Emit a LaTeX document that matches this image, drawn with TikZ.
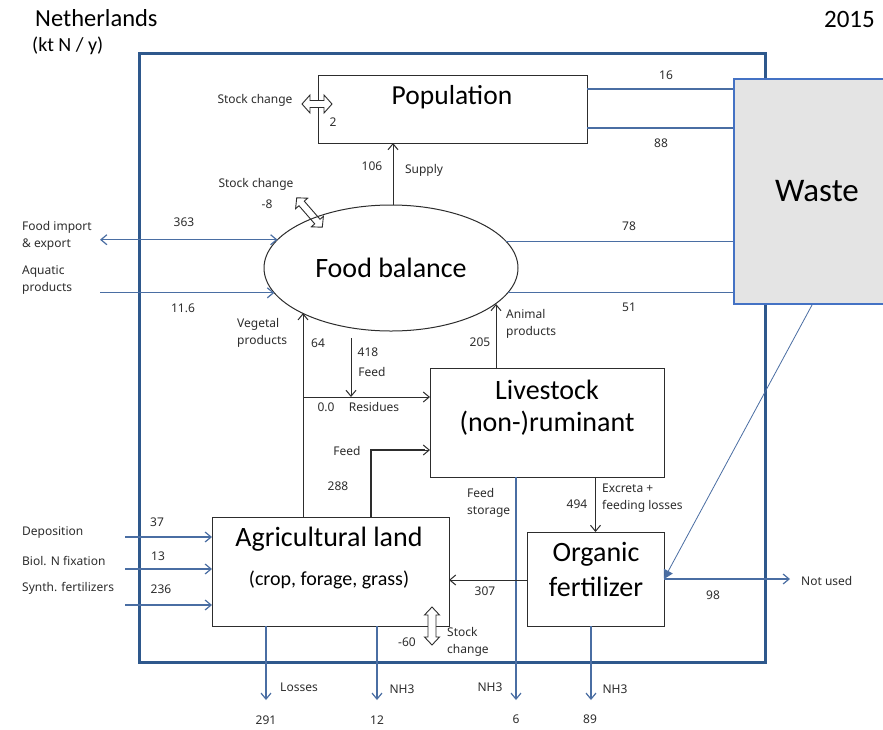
\documentclass[tikz,border=0pt]{standalone}
\usepackage{fontspec}
\setmainfont{Carlito}
\newfontfamily\lblfont{Noto Sans}
\usetikzlibrary{arrows.meta,shapes.geometric}
\definecolor{cblue}{RGB}{74,110,163}
\definecolor{fblue}{RGB}{46,88,140}
\definecolor{wblue}{RGB}{68,114,196}
\definecolor{wfill}{RGB}{228,228,228}
\definecolor{dk}{RGB}{45,45,45}
\newcommand{\hollowdbl}[7]{%
  \begin{scope}[shift={#1},rotate=#2]
    \draw[dk,line width=0.9pt,#7] (-#3,0) -- ({-#3+#4},#5) -- ({-#3+#4},#6) -- ({#3-#4},#6) -- ({#3-#4},#5) -- (#3,0)
      -- ({#3-#4},-#5) -- ({#3-#4},-#6) -- ({-#3+#4},-#6) -- ({-#3+#4},-#5) -- cycle;
  \end{scope}}
\begin{document}
\begin{tikzpicture}[x=1pt,y=-1pt,
  lab/.style={font=\lblfont\fontsize{12}{16.5}\selectfont, inner sep=0pt, align=left, text=dk},
  box/.style={draw=dk, line width=1pt, inner sep=0pt, outer sep=0pt, fill=white},
  ttl/.style={font=\fontsize{28}{30}\selectfont, inner sep=0pt, text=black},
  bl/.style={cblue, line width=1.2pt},
  bk/.style={dk, line width=1pt},
  tip/.style={-{Straight Barb[length=6pt,width=10pt]}},
  dtip/.style={{Straight Barb[length=6pt,width=10pt]}-{Straight Barb[length=6pt,width=10pt]}}]
\clip (0,0) rectangle (883,729);
\fill[white] (0,0) rectangle (883,729);

% titles
\node[anchor=west, inner sep=0pt, font=\fontsize{24.5}{26}\selectfont] (tnl) at (35,18) {Netherlands};
\node[anchor=west, inner sep=0pt, font=\fontsize{20}{22}\selectfont] (tunit) at (32,46) {(kt N / y)};
\node[anchor=east, inner sep=0pt, font=\fontsize{25}{26}\selectfont] (tyear) at (875,19) {2015};

% outer frame
\node[draw=fblue, line width=3pt, inner sep=0pt, minimum width=626pt, minimum height=609pt] (frame) at (452,357.5) {};

% boxes
\node[box, minimum width=269pt, minimum height=68pt] (pop) at (452.5,109) {};
\node[draw=wblue, fill=wfill, line width=2pt, inner sep=0pt, minimum width=161pt, minimum height=225pt] (waste) at (814.5,191.5) {};
\node[box, ellipse, minimum width=254pt, minimum height=126pt] (fb) at (391,268) {};
\node[box, minimum width=234pt, minimum height=109pt] (live) at (547,422.5) {};
\node[box, minimum width=237pt, minimum height=109pt] (agri) at (330.5,571.5) {};
\node[box, minimum width=137pt, minimum height=94pt] (org) at (595.5,579) {};

% box texts
\node[ttl, font=\fontsize{27.5}{30}\selectfont] (tpop) at (452,97) {Population};
\node[ttl, font=\fontsize{33}{36}\selectfont] (twaste) at (817,191) {Waste};
\node[ttl] (tfb) at (391,268) {Food balance};
\node[ttl] (tlive1) at (547,390) {Livestock};
\node[ttl] (tlive2) at (547,423) {(non-)ruminant};
\node[ttl] (tagri1) at (329,539) {Agricultural land};
\node[ttl, font=\fontsize{20}{22}\selectfont] (tagri2) at (329,580) {(crop, forage, grass)};
\node[ttl] (torg1) at (596,554) {Organic};
\node[ttl] (torg2) at (596,587) {fertilizer};

% coordinates
\coordinate (fiL) at (100,239);
\coordinate (aqL) at (100,293);
\coordinate (vg) at ([xshift=91pt]agri.north west);
\coordinate (an) at ([xshift=66pt]live.north west);
\coordinate (sup) at ([xshift=2pt]fb.north);
\coordinate (f418) at (351,338);
\coordinate (res) at (303,397);
\coordinate (f288) at ([xshift=159pt]agri.north west);
\coordinate (f288t) at (430,450);
\coordinate (fs) at ([xshift=86pt]live.south west);
\coordinate (fsE) at (516,700);
\coordinate (los) at ([xshift=54pt]agri.south west);
\coordinate (losE) at (266,700);
\coordinate (nha) at ([xshift=165pt]agri.south west);
\coordinate (nhaE) at (377,700);
\coordinate (nho) at ([xshift=64pt]org.south west);
\coordinate (nhoE) at (591,700);
\coordinate (wb) at ([xshift=-2.5pt]waste.south);
\coordinate (nu) at (790,579);
\coordinate (dep) at (125,537);
\coordinate (bnf) at (125,569);
\coordinate (syn) at (125,605);

% blue flows
\draw[bl] ([yshift=-14pt]pop.north east) -- ([yshift=-14pt]pop.north east -| waste.west);
\draw[bl] ([yshift=15pt]pop.south east) -- ([yshift=15pt]pop.south east -| waste.west);
\draw[bl] (fb.13) -- (fb.13 -| waste.west);
\draw[bl] (fb.348) -- (fb.348 -| waste.west);
\draw[bl, dtip] (fiL |- fb.166) -- (fb.166);
\draw[bl, tip] (aqL |- fb.192) -- (fb.192);
\draw[bl, tip] (dep) -- (dep -| agri.west);
\draw[bl, tip] (bnf) -- (bnf -| agri.west);
\draw[bl, tip] (syn) -- (syn -| agri.west);
\draw[bl, tip] (fs) -- (fsE);
\draw[bl, tip] (los) -- (losE);
\draw[bl, tip] (nha) -- (nhaE);
\draw[bl, tip] (nho) -- (nhoE);
\draw[cblue, line width=0.8pt, -{Triangle[length=9pt,width=10pt]}] (wb) -- (org.east);
\draw[bl, tip] (org.east) -- (nu);

% black flows
\draw[bk, tip] (sup) -- (sup |- pop.south);
\draw[bk, tip] (vg) -- (vg |- fb.207);
\draw[bk, tip] (an) -- (an |- fb.341.5);
\draw[bk, tip] (f418) -- (f418 |- res);
\draw[bk, tip] (res) -- (res -| live.west);
\draw[dk, line width=1.8pt] (f288) |- ([xshift=-5pt]f288t);
\draw[bk, tip] ([xshift=-6pt]f288t) -- (f288t);
\draw[bk, tip] (live.south -| org.north) -- (org.north);
\draw[bk, tip] (org.west |- 0,580) -- (agri.east |- 0,580);

% stock change arrows
\hollowdbl{(317,104)}{0}{15}{8}{9}{3.5}{fill=white}
\hollowdbl{(309.5,212.5)}{-49}{19.5}{7.5}{8}{3.5}{}
\hollowdbl{(432,626)}{90}{19}{8}{7.5}{4}{fill=white}

% labels
\node[lab] (lsc1) at (255,100) {Stock change};
\node[lab] (l2) at (333,122) {2};
\node[lab] (l106) at (372,166) {106};
\node[lab] (lsup) at (424,170) {Supply};
\node[lab] (lsc2) at (256,184) {Stock change};
\node[lab] (lm8) at (267,204) {-8};
\node[lab] (l16) at (666,75) {16};
\node[lab] (l88) at (661,143) {88};
\node[lab] (l78) at (629,226) {78};
\node[lab] (l51) at (629,307) {51};
\node[lab] (l363) at (184,222) {363};
\node[lab] (l116) at (183,308) {11.6};
\node[lab, anchor=west] (lfi) at (22,236) {Food import\\\& export};
\node[lab, anchor=west] (laq) at (22,280) {Aquatic\\products};
\node[lab, anchor=west] (lveg) at (237,333) {Vegetal\\products};
\node[lab] (l64) at (318,343) {64};
\node[lab] (l418) at (368,352) {418};
\node[lab] (lfeed1) at (372,372) {Feed};
\node[lab] (l00) at (326,407) {0.0};
\node[lab] (lres) at (374,407) {Residues};
\node[lab] (l205) at (480,342) {205};
\node[lab, anchor=west] (lani) at (506,324) {Animal\\products};
\node[lab] (lfeed2) at (347,451) {Feed};
\node[lab] (l288) at (338,486) {288};
\node[lab, anchor=west] (lfs) at (467,503) {Feed\\storage};
\node[lab] (l494) at (577,504) {494};
\node[lab, anchor=west] (lexc) at (602,498) {Excreta +\\feeding losses};
\node[lab] (l307) at (485,591) {307};
\node[lab] (l98) at (713,595) {98};
\node[lab, anchor=west] (lnu) at (801,581) {Not used};
\node[lab] (lnh1) at (490,687) {NH3};
\node[lab] (l6) at (516,719) {6};
\node[lab] (lnh2) at (615,689) {NH3};
\node[lab] (l89) at (590,719) {89};
\node[lab, anchor=west] (lsc3) at (447,642) {Stock\\change};
\node[lab] (lm60) at (407,642) {-60};
\node[lab] (llos) at (299,687) {Losses};
\node[lab] (l291) at (266,720) {291};
\node[lab] (lnh3) at (402,689) {NH3};
\node[lab] (l12) at (377,720) {12};
\node[lab] (l37) at (157,522) {37};
\node[lab] (l13) at (158,556) {13};
\node[lab] (l236) at (161,589) {236};
\node[lab, anchor=west] (ldep) at (22,533) {Deposition};
\node[lab, anchor=west] (lbnf) at (22,561) {Biol. N fixation};
\node[lab, anchor=west] (lsyn) at (22,588) {Synth. fertilizers};
\end{tikzpicture}
\end{document}
